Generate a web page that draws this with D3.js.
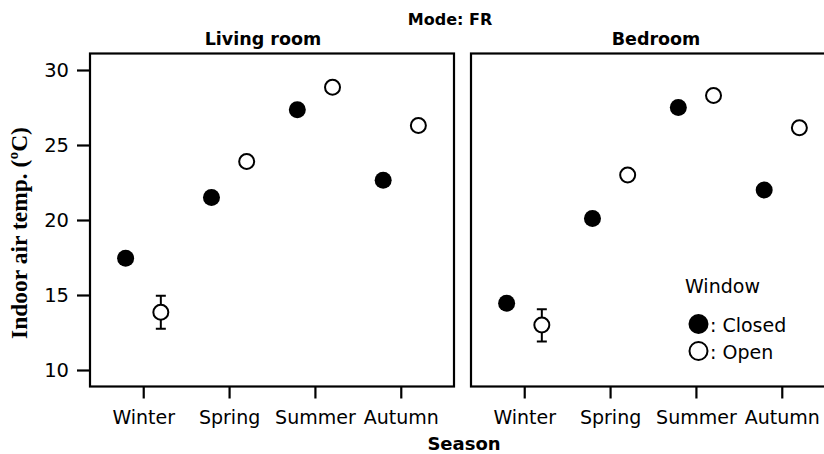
<!DOCTYPE html>
<html>
<head>
<meta charset="utf-8">
<script src="https://cdn.jsdelivr.net/npm/d3@7"></script>
<style>
  body { margin: 0; background: #fff; }
  svg { display: block; }
</style>
</head>
<body>
<svg id="chart" width="824" height="454"></svg>
<script>
const seasons = ["Winter", "Spring", "Summer", "Autumn"];
const rooms = ["Living room", "Bedroom"];

// mean indoor air temp per season, window closed / open
const livingClosed = [17.45, 21.5, 27.35, 22.65];
const livingOpen = [13.85, 23.9, 28.85, 26.3];
const bedClosed = [14.45, 20.1, 27.5, 22.0];
const bedOpen = [13.0, 23.0, 28.3, 26.15];

// error bars (only visible ones, open window in winter)
const livingOpenLow = [12.75, null, null, null];
const livingOpenHigh = [14.95, null, null, null];
const bedOpenLow = [11.9, null, null, null];
const bedOpenHigh = [14.05, null, null, null];

const yTicks = [10, 15, 20, 25, 30];

const panels = [
  {room: rooms[0], closed: livingClosed, open: livingOpen, low: livingOpenLow, high: livingOpenHigh, x0: 90},
  {room: rooms[1], closed: bedClosed, open: bedOpen, low: bedOpenLow, high: bedOpenHigh, x0: 471}
];

const panelW = 364;
const plotTop = 53.5, plotBottom = 386.5;
const sans = "'DejaVu Sans', sans-serif";

const svg = d3.select("#chart");

const y = d3.scaleLinear().domain([8.9, 31.1]).range([plotBottom, plotTop]);

const x = d3.scalePoint().domain(seasons).range([0, panelW]).padding(0.62);
const dodge = x.step() * 0.205;

svg.append("text")
    .attr("x", 450)
    .attr("y", 25)
    .attr("text-anchor", "middle")
    .attr("font-family", sans)
    .attr("font-weight", "bold")
    .attr("font-size", 16)
    .text("Mode: FR");

panels.forEach((p, i) => {
  const g = svg.append("g").attr("transform", `translate(${p.x0},0)`);

  g.append("text")
      .attr("x", panelW / 2 + (i === 0 ? -9 : 3))
      .attr("y", 45)
      .attr("text-anchor", "middle")
      .attr("font-family", sans)
      .attr("font-weight", "bold")
      .attr("font-size", 17.5)
      .text(p.room);

  g.append("rect")
      .attr("x", 0)
      .attr("y", plotTop)
      .attr("width", panelW)
      .attr("height", plotBottom - plotTop)
      .attr("fill", "none")
      .attr("stroke", "#000")
      .attr("stroke-width", 2.2);

  const xAxis = g.append("g")
      .attr("transform", `translate(0,${plotBottom})`)
      .call(d3.axisBottom(x).tickSize(12).tickPadding(12));
  xAxis.select(".domain").remove();
  xAxis.selectAll("line").attr("stroke-width", 2.2);
  xAxis.selectAll("text")
      .attr("font-family", sans)
      .attr("font-size", 19)
      .attr("fill", "#000");

  if (i === 0) {
    const yAxis = g.append("g")
        .call(d3.axisLeft(y).tickValues(yTicks).tickSize(13).tickPadding(8));
    yAxis.select(".domain").remove();
    yAxis.selectAll("line").attr("stroke-width", 2.2);
    yAxis.selectAll("text")
        .attr("font-family", sans)
        .attr("font-size", 19.5)
        .attr("fill", "#000");
  }

  // error bars
  const errs = seasons.map((s, k) => ({s, lo: p.low[k], hi: p.high[k]}))
      .filter(d => d.lo != null);
  const eg = g.append("g").attr("stroke", "#000").attr("stroke-width", 2);
  eg.selectAll("line.v").data(errs).join("line").attr("class", "v")
      .attr("x1", d => x(d.s) + dodge).attr("x2", d => x(d.s) + dodge)
      .attr("y1", d => y(d.lo)).attr("y2", d => y(d.hi));
  eg.selectAll("line.lo").data(errs).join("line").attr("class", "lo")
      .attr("x1", d => x(d.s) + dodge - 5).attr("x2", d => x(d.s) + dodge + 5)
      .attr("y1", d => y(d.lo)).attr("y2", d => y(d.lo));
  eg.selectAll("line.hi").data(errs).join("line").attr("class", "hi")
      .attr("x1", d => x(d.s) + dodge - 5).attr("x2", d => x(d.s) + dodge + 5)
      .attr("y1", d => y(d.hi)).attr("y2", d => y(d.hi));

  g.append("g").selectAll("circle")
    .data(seasons.map((s, k) => ({s, v: p.closed[k]})))
    .join("circle")
      .attr("cx", d => x(d.s) - dodge)
      .attr("cy", d => y(d.v))
      .attr("r", 8.5)
      .attr("fill", "#000");

  g.append("g").selectAll("circle")
    .data(seasons.map((s, k) => ({s, v: p.open[k]})))
    .join("circle")
      .attr("cx", d => x(d.s) + dodge)
      .attr("cy", d => y(d.v))
      .attr("r", 7.5)
      .attr("fill", "#fff")
      .attr("stroke", "#000")
      .attr("stroke-width", 2);
});

// axis titles
svg.append("text")
    .attr("transform", "translate(27,233) rotate(-90)")
    .attr("text-anchor", "middle")
    .attr("font-family", "'Liberation Serif', 'Times New Roman', serif")
    .attr("font-weight", "bold")
    .attr("font-size", 23.5)
    .text("Indoor air temp. (ºC)");

svg.append("text")
    .attr("x", 464)
    .attr("y", 450)
    .attr("text-anchor", "middle")
    .attr("font-family", sans)
    .attr("font-weight", "bold")
    .attr("font-size", 18)
    .text("Season");

// legend
const legend = svg.append("g").attr("transform", "translate(685,0)");
legend.append("text")
    .attr("x", 0).attr("y", 293)
    .attr("font-family", sans)
    .attr("font-size", 19)
    .text("Window");

const legendItems = [
  {label: ": Closed", fill: "#000", cy: 324},
  {label: ": Open", fill: "#fff", cy: 351}
];
legendItems.forEach(d => {
  legend.append("circle")
      .attr("cx", 13.5).attr("cy", d.cy)
      .attr("r", d.fill === "#000" ? 10 : 9)
      .attr("fill", d.fill)
      .attr("stroke", "#000")
      .attr("stroke-width", d.fill === "#000" ? 0 : 2);
  legend.append("text")
      .attr("x", 25).attr("y", d.cy + 7.5)
      .attr("font-family", sans)
      .attr("font-size", 19)
      .text(d.label);
});
</script>
</body>
</html>
